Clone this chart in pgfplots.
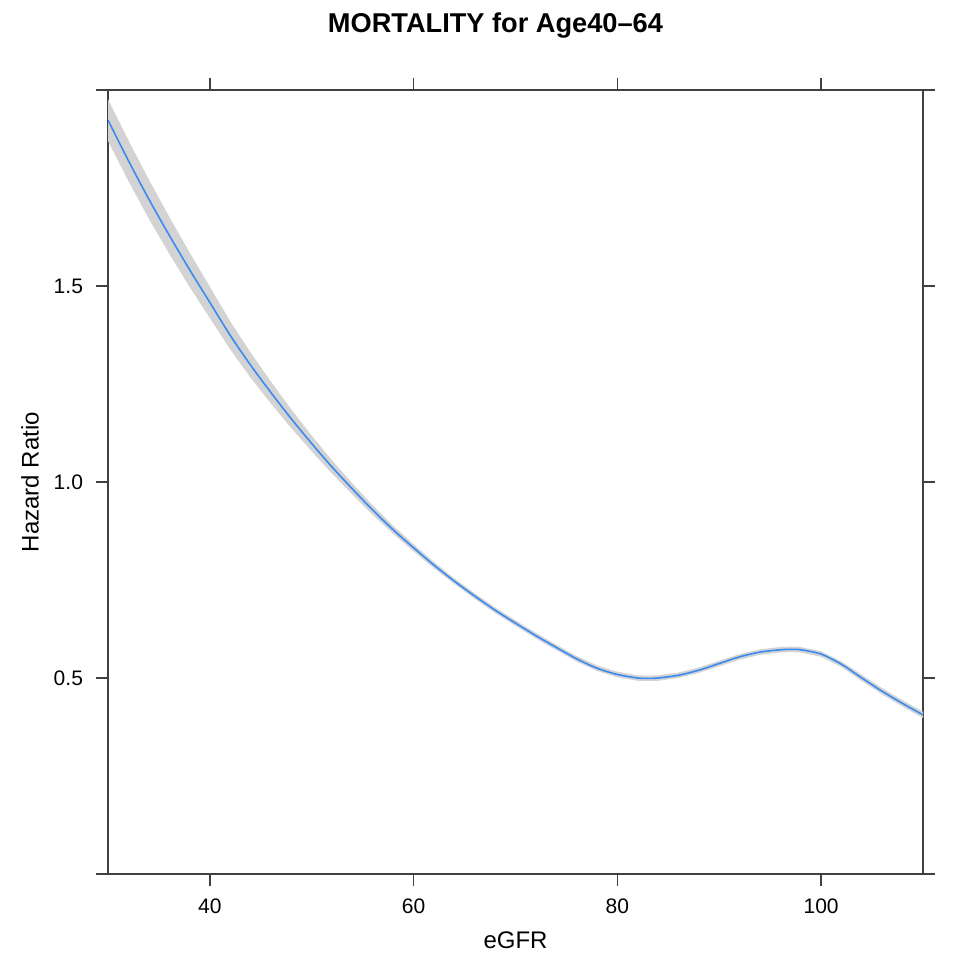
\documentclass[border=0pt]{standalone}
\usepackage{fontspec}
\setmainfont{Liberation Sans}
\usepackage{pgfplots}
\usepackage{pgfplotstable}
\pgfplotsset{compat=1.18}
\usepgfplotslibrary{fillbetween}
\definecolor{lineblue}{HTML}{3A8AF0}
\definecolor{bandgray}{HTML}{D3D3D3}
\pgfplotstableread{
x    y     lo    hi
30   1.923 1.870 1.976
32   1.820 1.768 1.872
34   1.722 1.672 1.772
36   1.630 1.583 1.677
38   1.542 1.498 1.586
40   1.458 1.418 1.498
42   1.374 1.338 1.410
44   1.298 1.266 1.330
46   1.228 1.200 1.256
48   1.161 1.137 1.185
50   1.098 1.078 1.118
52   1.038 1.021 1.055
54   0.982 0.968 0.996
56   0.928 0.916 0.940
58   0.878 0.868 0.888
60   0.832 0.823 0.841
62   0.788 0.780 0.796
64   0.747 0.740 0.754
66   0.709 0.702 0.716
68   0.673 0.666 0.680
70   0.640 0.633 0.647
72   0.608 0.601 0.615
74   0.578 0.571 0.585
76   0.549 0.542 0.556
78   0.525 0.518 0.532
80   0.509 0.502 0.516
82   0.500 0.493 0.507
83   0.499 0.492 0.506
84   0.500 0.493 0.507
86   0.507 0.500 0.514
88   0.520 0.513 0.527
90   0.537 0.530 0.544
92   0.554 0.547 0.561
94   0.566 0.559 0.573
96   0.572 0.565 0.579
97   0.573 0.566 0.580
98   0.572 0.565 0.579
100  0.561 0.554 0.568
102  0.535 0.528 0.542
104  0.500 0.492 0.508
106  0.466 0.458 0.474
108  0.435 0.427 0.443
110  0.406 0.398 0.414
}\curve
\begin{document}
\begin{tikzpicture}
\begin{axis}[
  name=ax,
  at={(0,0)}, anchor=south west,
  scale only axis, width=407.5pt, height=392pt,
  xmin=30, xmax=110, ymin=0, ymax=2,
  xtick={40,60,80,100},
  ytick={0,0.5,1,1.5,2},
  yticklabels={{},0.5,1.0,1.5,{}},
  tick align=outside, major tick length=6pt,
  xtick pos=both, ytick pos=both,
  xticklabel pos=bottom, yticklabel pos=left,
  axis line style={black!75, line width=0.7pt},
  every tick/.style={black!75, line width=0.7pt},
  /pgf/number format/assume math mode=true,
  tick label style={font=\fontsize{10.5}{12}\selectfont},
  xticklabel style={yshift=-3pt},
  yticklabel style={xshift=-3pt},
  label style={font=\fontsize{12}{14}\selectfont},
  xlabel={eGFR},
  ylabel={Hazard Ratio},
  xlabel style={at={(axis description cs:0.5,0)}, anchor=center, yshift=-33pt},
  ylabel style={at={(axis description cs:-0.0957,0.5)}, anchor=center},
  title={MORTALITY for Age40--64},
  title style={at={(axis description cs:0.5,1)}, anchor=center, yshift=26pt, xshift=-10pt, font=\fontsize{13.6}{16}\selectfont\bfseries},
]
\addplot[draw=none, name path=up] table[x=x, y=hi] {\curve};
\addplot[draw=none, name path=lo] table[x=x, y=lo] {\curve};
\addplot[bandgray, draw=none] fill between[of=up and lo];
\addplot[lineblue, line width=0.8pt, smooth] table[x=x, y=y] {\curve};
\end{axis}
\pgfresetboundingbox
\path ([xshift=-54pt,yshift=-47.5pt]ax.south west) rectangle ([xshift=24.5pt,yshift=45pt]ax.north east);
\end{tikzpicture}
\end{document}
